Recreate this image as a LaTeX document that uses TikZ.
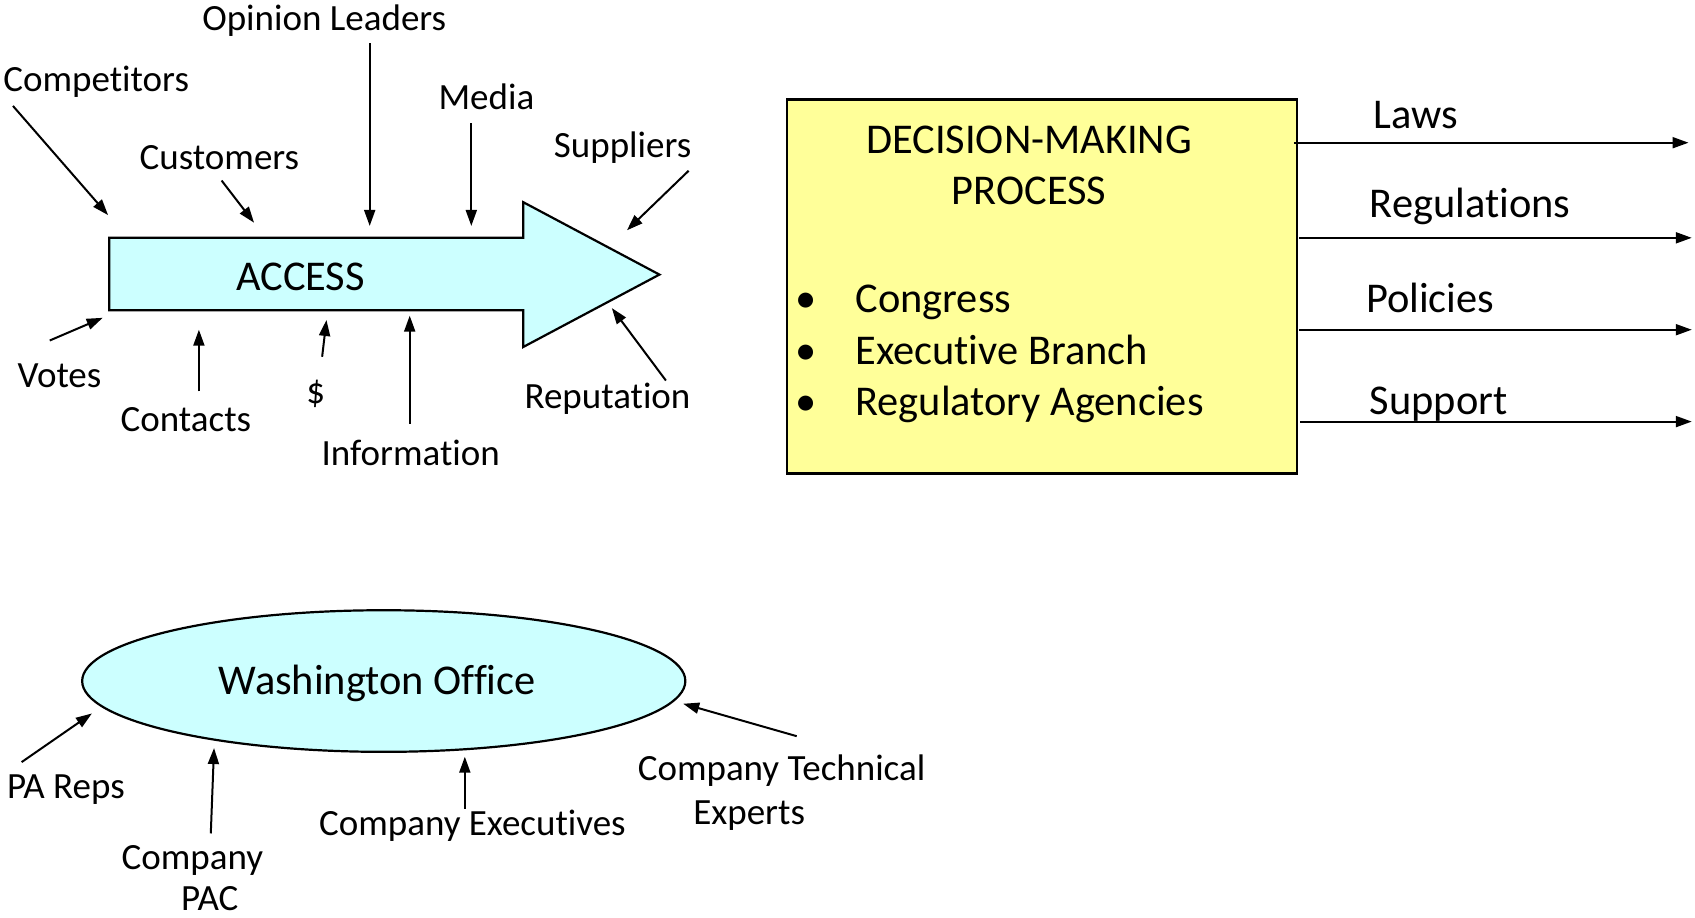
\documentclass[tikz,border=0pt]{standalone}
\usepackage{fontspec}
\setmainfont{Carlito}[RawFeature={-liga,-clig,-calt,-dlig,-rlig}]
\usetikzlibrary{arrows.meta}
\definecolor{acc}{HTML}{CCFFFF}
\definecolor{dmp}{HTML}{FFFF99}
\begin{document}
\begin{tikzpicture}[x=0.5405pt,y=-0.5405pt,
  lbl/.style={font=\fontsize{18.5}{22}\selectfont, anchor=base, inner sep=0pt},
  big/.style={font=\fontsize{21.2}{25}\selectfont, anchor=base, inner sep=0pt},
  arr/.style={-{Triangle[length=8pt,width=5.5pt]}, line width=1pt}]
\useasboundingbox (0,0) rectangle (1568,849);
% ACCESS arrow
\draw[fill=acc, line width=1.1pt] (101,220) coordinate (aTL) -- (484,220) -- (484,187) -- (610,254) coordinate (aTip) -- (484,321) -- (484,287) -- (101,287) coordinate (aBL) -- cycle;
\node[big] (access) at (278,269) {ACCESS};
% labels around ACCESS
\node[lbl] (comp) at (89,85) {Competitors};
\node[lbl] (cust) at (203,157) {Customers};
\node[lbl] (opin) at (300,28) {Opinion Leaders};
\node[lbl] (media) at (450,101) {Media};
\node[lbl] (supp) at (576,146) {Suppliers};
\node[lbl] (votes) at (55,358) {Votes};
\node[lbl] (cont) at (172,399) {Contacts};
\node[lbl] (dollar) at (292,373) {\$};
\node[lbl] (info) at (380,431) {Information};
\node[lbl] (rep) at (562,378) {Reputation};
\coordinate (c1) at (12,98);   \coordinate (c2) at (100,199);
\coordinate (u1) at (205,167); \coordinate (u2) at (235,206);
\coordinate (o1) at (342,40);  \coordinate (o2) at (342,209);
\coordinate (m1) at (436,114); \coordinate (m2) at (436,209);
\coordinate (s1) at (637,158); \coordinate (s2) at (580,213);
\coordinate (v1) at (46,315);  \coordinate (v2) at (95,294);
\coordinate (k1) at (184,362); \coordinate (k2) at (184,305);
\coordinate (d1) at (298,330); \coordinate (d2) at (302,296);
\coordinate (i1) at (379,392); \coordinate (i2) at (379,292);
\coordinate (r1) at (616,352); \coordinate (r2) at (566,285);
\draw[arr] (c1) -- (c2);
\draw[arr] (u1) -- (u2);
\draw[arr] (o1) -- (o2);
\draw[arr] (m1) -- (m2);
\draw[arr] (s1) -- (s2);
\draw[arr] (v1) -- (v2);
\draw[arr] (k1) -- (k2);
\draw[arr] (d1) -- (d2);
\draw[arr] (i1) -- (i2);
\draw[arr] (r1) -- (r2);
% Decision box
\draw[fill=dmp, line width=1.1pt] (728,92) rectangle (1200,438);
\node[big] (dm1) at (952,142) {DECISION-MAKING};
\node[big] (dm2) at (952,189) {PROCESS};
\node[big] (b1) at (746,289) {•};
\node[big] (b2) at (746,337) {•};
\node[big] (b3) at (746,384) {•};
\node[big, anchor=base west] (congr) at (791,289) {Congress};
\node[big, anchor=base west] (exec) at (791,337) {Executive Branch};
\node[big, anchor=base west] (regag) at (791,384) {Regulatory Agencies};
% outputs
\coordinate (l1) at (1197,132); \coordinate (l2) at (1562,132);
\coordinate (g1) at (1202,220); \coordinate (g2) at (1565,220);
\coordinate (p1) at (1202,305); \coordinate (p2) at (1565,305);
\coordinate (t1) at (1203,390); \coordinate (t2) at (1565,390);
\draw[arr] (l1) -- (l2);
\draw[arr] (g1) -- (g2);
\draw[arr] (p1) -- (p2);
\draw[arr] (t1) -- (t2);
\node[big] (laws) at (1310,119) {Laws};
\node[big] (regs) at (1360,201) {Regulations};
\node[big] (pols) at (1323,289) {Policies};
\node[big] (supt) at (1331,383) {Support};
% Washington office
\draw[fill=acc, line width=1.1pt] (355,630) ellipse [x radius=279, y radius=65.5];
\node[big] (wash) at (349,642) {Washington Office};
\node[lbl] (pa) at (61,739) {PA Reps};
\node[lbl] (cpac1) at (178,804) {Company};
\node[lbl] (cpac2) at (194,842) {PAC};
\node[lbl] (cexec) at (437,773) {Company Executives};
\node[lbl] (ctech1) at (723,722) {Company Technical};
\node[lbl] (ctech2) at (693,763) {Experts};
\coordinate (w1) at (20,705);  \coordinate (w2) at (85,660);
\coordinate (x1) at (195,771); \coordinate (x2) at (198,692);
\coordinate (y1) at (430,748); \coordinate (y2) at (430,700);
\coordinate (z1) at (737,681); \coordinate (z2) at (632,651);
\draw[arr] (w1) -- (w2);
\draw[arr] (x1) -- (x2);
\draw[arr] (y1) -- (y2);
\draw[arr] (z1) -- (z2);
\end{tikzpicture}
\end{document}
